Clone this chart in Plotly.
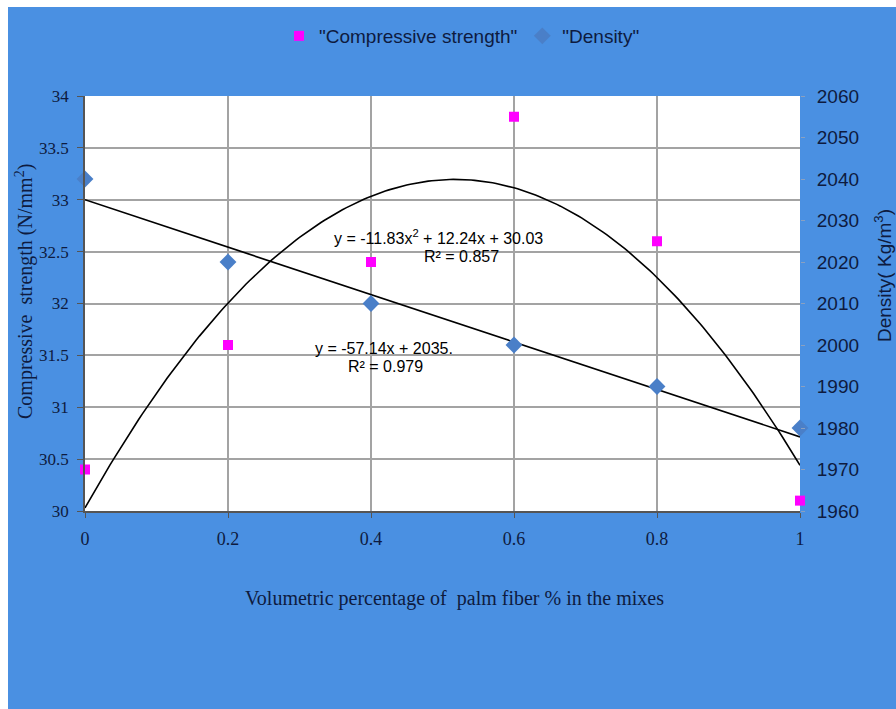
import numpy as np
import plotly.graph_objects as go

# Measured values
fiber_pct = [0, 0.2, 0.4, 0.6, 0.8, 1.0]
compressive = [30.4, 31.6, 32.4, 33.8, 32.6, 30.1]
density = [2040, 2020, 2010, 2000, 1990, 1980]

# Trendline coefficients (highest power first)
strength_fit = [-11.83, 12.24, 30.03]
density_fit = [-57.14, 2035]

# Axis ticks
x_ticks = [0, 0.2, 0.4, 0.6, 0.8, 1]
x_tick_text = ["0", "0.2", "0.4", "0.6", "0.8", "1"]
left_ticks = [30, 30.5, 31, 31.5, 32, 32.5, 33, 33.5, 34]
left_tick_text = ["30", "30.5", "31", "31.5", "32", "32.5", "33", "33.5", "34"]
right_ticks = [1960, 1970, 1980, 1990, 2000, 2010, 2020, 2030, 2040, 2050, 2060]

BLUE_BG = "#4A90E2"
NAVY = "#0E1B3F"
SERIF = "Liberation Serif, Times New Roman, serif"
SANS = "Liberation Sans, Arial, sans-serif"

xs = np.linspace(0, 1, 201)

fig = go.Figure()

# Trendlines
fig.add_trace(go.Scatter(
    x=xs, y=np.polyval(strength_fit, xs), mode="lines",
    line=dict(color="black", width=1.6), showlegend=False, hoverinfo="skip",
    yaxis="y"))
fig.add_trace(go.Scatter(
    x=xs, y=np.polyval(density_fit, xs), mode="lines",
    line=dict(color="black", width=1.6), showlegend=False, hoverinfo="skip",
    yaxis="y2"))

# Data points
fig.add_trace(go.Scatter(
    x=fiber_pct, y=compressive, mode="markers", name='"Compressive strength"',
    marker=dict(symbol="square", size=10, color="#FF00FF"),
    cliponaxis=False, yaxis="y"))
fig.add_trace(go.Scatter(
    x=fiber_pct, y=density, mode="markers", name='"Density"',
    marker=dict(symbol="diamond", size=13, color="#4A7FC8"),
    cliponaxis=False, yaxis="y2"))

# Plot area spans px 85..800 horizontally and 96..511 vertically
def px_x(px):
    return (px - 85) / 715

def px_y(py):
    return (511 - py) / 415

eq_font = dict(family=SANS, size=16, color="black")
annotations = [
    dict(text="y = -11.83x<sup>2</sup> + 12.24x + 30.03", x=0.494, y=32.64,
         xref="x", yref="y", showarrow=False, xanchor="center", font=eq_font),
    dict(text="R² = 0.857", x=0.527, y=32.45, xref="x", yref="y",
         showarrow=False, xanchor="center", font=eq_font),
    dict(text="y = -57.14x + 2035.", x=0.418, y=31.57, xref="x", yref="y",
         showarrow=False, xanchor="center", font=eq_font),
    dict(text="R² = 0.979", x=0.42, y=31.39, xref="x", yref="y",
         showarrow=False, xanchor="center", font=eq_font),
    # Axis titles
    dict(text="Compressive  strength (N/mm<sup>2</sup>)", x=px_x(24), y=px_y(292),
         xref="paper", yref="paper", showarrow=False, textangle=-90,
         xanchor="center", yanchor="middle",
         font=dict(family=SERIF, size=20, color=NAVY)),
    dict(text="Density( Kg/m<sup>3</sup>)", x=px_x(883), y=px_y(275),
         xref="paper", yref="paper", showarrow=False, textangle=-90,
         xanchor="center", yanchor="middle",
         font=dict(family=SANS, size=19, color=NAVY)),
    dict(text="Volumetric percentage of  palm fiber % in the mixes", x=px_x(454),
         y=px_y(598), xref="paper", yref="paper", showarrow=False,
         xanchor="center", yanchor="middle",
         font=dict(family=SERIF, size=20, color=NAVY)),
]

shapes = [
    # thin white border along the left and top edges of the page
    dict(type="rect", xref="paper", yref="paper", x0=px_x(-20), x1=px_x(8),
         y0=px_y(760), y1=px_y(-20), fillcolor="white", line=dict(width=0)),
    dict(type="rect", xref="paper", yref="paper", x0=px_x(-20), x1=px_x(920),
         y0=px_y(7), y1=px_y(-20), fillcolor="white", line=dict(width=0)),
]

fig.update_layout(
    width=896, height=709,
    margin=dict(l=85, r=96, t=96, b=198),
    paper_bgcolor=BLUE_BG, plot_bgcolor="white",
    showlegend=True,
    legend=dict(orientation="h", x=px_x(462), y=px_y(36), xanchor="center",
                yanchor="middle", bgcolor="rgba(0,0,0,0)", itemwidth=30,
                font=dict(family=SANS, size=19, color=NAVY)),
    xaxis=dict(range=[0, 1], tickvals=x_ticks, ticktext=x_tick_text,
               showgrid=True, gridcolor="#A3A3A3", gridwidth=1.5,
               showline=True, linecolor="#555555", linewidth=1.5,
               ticks="outside", ticklen=5, tickcolor="#555555",
               ticklabelstandoff=6,
               tickfont=dict(family=SERIF, size=18, color=NAVY),
               zeroline=False, fixedrange=True),
    yaxis=dict(range=[30, 34], tickvals=left_ticks, ticktext=left_tick_text,
               showgrid=True, gridcolor="#A3A3A3", gridwidth=1.5,
               showline=True, linecolor="#555555", linewidth=1.5,
               ticks="outside", ticklen=6, tickcolor="#555555",
               ticklabelstandoff=5,
               tickfont=dict(family=SERIF, size=17, color=NAVY),
               zeroline=False),
    yaxis2=dict(range=[1960, 2060], tickvals=right_ticks, overlaying="y",
                side="right", showgrid=False, showline=False,
                ticks="outside", ticklen=4, tickcolor="#8AA0C0",
                ticklabelstandoff=8,
                tickfont=dict(family=SANS, size=19, color=NAVY),
                zeroline=False),
    annotations=annotations,
    shapes=shapes,
)

fig.write_html("out.html")
